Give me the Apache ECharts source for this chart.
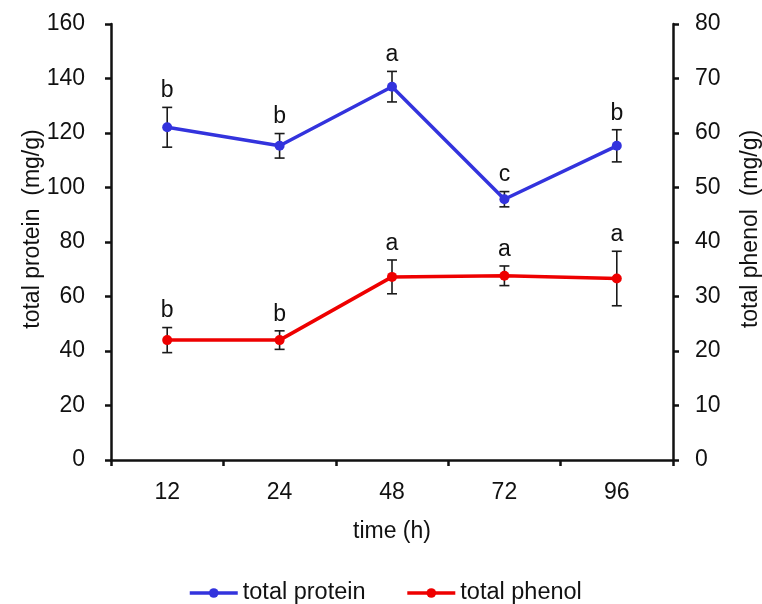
<!DOCTYPE html>
<html>
<head>
<meta charset="utf-8">
<script src="https://cdn.jsdelivr.net/npm/echarts@6/dist/echarts.min.js"></script>
<style>
  html, body { margin: 0; padding: 0; background: #fff; overflow: hidden; }
  #chart { width: 762px; height: 604px; }
</style>
</head>
<body>
<div id="chart"></div>
<script>
// Sampling times (h)
var times = ['12', '24', '48', '72', '96'];

// Total protein (mg/g), mean and standard deviation, with significance letters
var proteinMean = [122.1, 115.3, 137.0, 95.7, 115.3];
var proteinSD = [7.3, 4.5, 5.6, 2.8, 5.9];
var proteinLetters = ['b', 'b', 'a', 'c', 'b'];

// Total phenol (mg/g), mean and standard deviation, with significance letters
var phenolMean = [22.0, 22.0, 33.6, 33.8, 33.3];
var phenolSD = [2.3, 1.7, 3.1, 1.8, 5.0];
var phenolLetters = ['b', 'b', 'a', 'a', 'a'];

// Axis scales
var proteinTicks = { min: 0, max: 160, interval: 20 };
var phenolTicks = { min: 0, max: 80, interval: 10 };

var FONT = '"Liberation Sans", Arial, sans-serif';
var BLUE = '#3333dd';
var RED = '#ee0000';

function errorData(mean, sd, letters) {
  return mean.map(function (m, i) {
    return [i, m - sd[i], m + sd[i], letters[i]];
  });
}

// Error bar with caps plus the significance letter above it
function renderError(params, api) {
  var idx = api.value(0);
  var low = api.coord([idx, api.value(1)]);
  var high = api.coord([idx, api.value(2)]);
  var letters = params.seriesIndex === 2 ? proteinLetters : phenolLetters;
  var cap = 5;
  var style = { stroke: '#1a1a1a', lineWidth: 1.6 };
  return {
    type: 'group',
    children: [
      { type: 'line', shape: { x1: high[0], y1: high[1], x2: low[0], y2: low[1] }, style: style },
      { type: 'line', shape: { x1: high[0] - cap, y1: high[1], x2: high[0] + cap, y2: high[1] }, style: style },
      { type: 'line', shape: { x1: low[0] - cap, y1: low[1], x2: low[0] + cap, y2: low[1] }, style: style },
      {
        type: 'text',
        x: high[0],
        y: high[1] - 5,
        style: {
          text: letters[params.dataIndex],
          align: 'center',
          verticalAlign: 'bottom',
          fill: '#111',
          font: '23px ' + FONT
        }
      }
    ]
  };
}

var axisLineStyle = { color: '#111', width: 2.5 };
var labelStyle = { fontSize: 23, fontFamily: FONT, color: '#111' };

var chart = echarts.init(document.getElementById('chart'), null, { renderer: 'canvas' });

chart.setOption({
  animation: false,
  backgroundColor: '#fff',
  textStyle: { fontFamily: FONT, color: '#111' },
  grid: { left: 111, right: 89, top: 24, bottom: 144, containLabel: false, outerBoundsMode: 'none' },
  legend: {
    data: ['total protein', 'total phenol'],
    left: 183,
    top: 576,
    itemWidth: 48,
    itemHeight: 12,
    itemGap: 40,
    lineStyle: { width: 3.5 },
    textStyle: { fontSize: 23.5, fontFamily: FONT, color: '#111' }
  },
  xAxis: {
    type: 'category',
    data: times,
    boundaryGap: true,
    name: 'time (h)',
    nameLocation: 'middle',
    nameGap: 60,
    nameMoveOverlap: false,
    nameTextStyle: labelStyle,
    axisLine: { lineStyle: axisLineStyle },
    axisTick: { show: true, inside: false, length: 6, lineStyle: axisLineStyle },
    axisLabel: { fontSize: 23, fontFamily: FONT, color: '#111', margin: 21 },
    splitLine: { show: false }
  },
  yAxis: [
    {
      type: 'value',
      position: 'left',
      min: proteinTicks.min,
      max: proteinTicks.max,
      interval: proteinTicks.interval,
      name: 'total protein  (mg/g)',
      nameLocation: 'middle',
      nameRotate: 90,
      nameGap: 67,
      nameMoveOverlap: false,
      nameTextStyle: { fontSize: 23, fontFamily: FONT, color: '#111', padding: [0, 0, 0, 26] },
      axisLine: { show: true, lineStyle: axisLineStyle },
      axisTick: { show: true, inside: false, length: 6, lineStyle: axisLineStyle },
      axisLabel: { fontSize: 23, fontFamily: FONT, color: '#111', margin: 26 },
      splitLine: { show: false }
    },
    {
      type: 'value',
      position: 'right',
      min: phenolTicks.min,
      max: phenolTicks.max,
      interval: phenolTicks.interval,
      name: 'total phenol  (mg/g)',
      nameLocation: 'middle',
      nameRotate: 90,
      nameGap: 66,
      nameMoveOverlap: false,
      nameTextStyle: { fontSize: 23, fontFamily: FONT, color: '#111', padding: [0, 0, 0, 26] },
      axisLine: { show: true, lineStyle: axisLineStyle },
      axisTick: { show: true, inside: false, length: 6, lineStyle: axisLineStyle },
      axisLabel: { fontSize: 23, fontFamily: FONT, color: '#111', margin: 22 },
      splitLine: { show: false }
    }
  ],
  series: [
    {
      name: 'total protein',
      type: 'line',
      yAxisIndex: 0,
      data: proteinMean,
      symbol: 'circle',
      symbolSize: 10,
      z: 5,
      lineStyle: { color: BLUE, width: 3.5 },
      itemStyle: { color: BLUE }
    },
    {
      name: 'total phenol',
      type: 'line',
      yAxisIndex: 1,
      data: phenolMean,
      symbol: 'circle',
      symbolSize: 10,
      z: 5,
      lineStyle: { color: RED, width: 3.5 },
      itemStyle: { color: RED }
    },
    {
      name: 'protein error',
      type: 'custom',
      yAxisIndex: 0,
      data: errorData(proteinMean, proteinSD, proteinLetters),
      encode: { x: 0, y: [1, 2] },
      renderItem: renderError,
      z: 3
    },
    {
      name: 'phenol error',
      type: 'custom',
      yAxisIndex: 1,
      data: errorData(phenolMean, phenolSD, phenolLetters),
      encode: { x: 0, y: [1, 2] },
      renderItem: renderError,
      z: 3
    }
  ]
});
</script>
</body>
</html>
